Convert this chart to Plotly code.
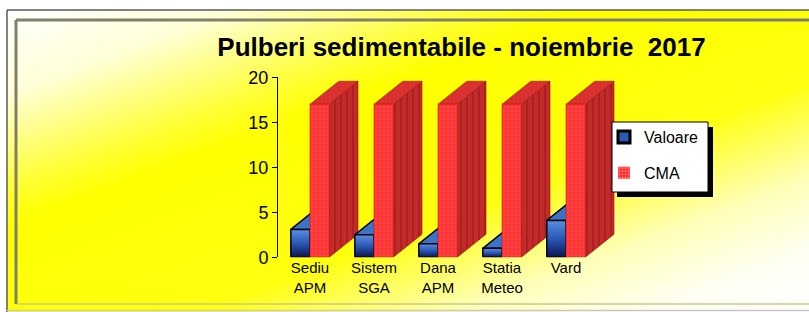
import base64
import plotly.graph_objects as go

# ---------------- data ----------------
categories = ["Sediu<br>APM", "Sistem<br>SGA", "Dana<br>APM", "Statia<br>Meteo", "Vard"]
valoare = [3.1, 2.5, 1.5, 1.0, 4.1]
cma = [17, 17, 17, 17, 17]
y_ticks = [0, 5, 10, 15, 20]
series_names = ["Valoare", "CMA"]
title_text = "Pulberi sedimentabile - noiembrie \u00a02017"

# ---------------- style constants ----------------
W, H = 809, 312
FONT = "Liberation Sans, Arial, sans-serif"
BAR_W = 0.3      # width of each front face (category units)
DX = 0.45        # 3D depth, horizontal (category units)
DY = 2.56        # 3D depth, vertical (value units)


def px(x):
    return x / W


def py(y):
    return 1 - y / H


def closed(xs, ys):
    return xs + [xs[0]], ys + [ys[0]]


fig = go.Figure()


def face(xs, ys, **kw):
    xs, ys = closed(xs, ys)
    fig.add_trace(go.Scatter(x=xs, y=ys, mode="lines", fill="toself",
                             hoverinfo="skip", showlegend=False, **kw))


for i, (v, h) in enumerate(zip(valoare, cma)):
    c = i
    # blue (Valoare) top face
    face([c - BAR_W, c, c + DX, c - BAR_W + DX], [v, v, v + DY, v + DY],
         fillcolor="#3d72c6", line=dict(color="#0a0a20", width=1.5))
    # blue front face (vertical gradient)
    face([c - BAR_W, c, c, c - BAR_W], [0, 0, v, v],
         fillcolor="#2b5ab8",
         fillgradient=dict(type="vertical",
                           colorscale=[[0, "#0a1450"], [0.5, "#2a58b5"], [1, "#5a8fe0"]]),
         line=dict(color="#050510", width=1.5))
    # red (CMA) side face
    face([c + BAR_W, c + BAR_W + DX, c + BAR_W + DX, c + BAR_W], [0, DY, h + DY, h],
         fillcolor="#c42a2a",
         fillpattern=dict(shape="|", bgcolor="#c42a2a", fgcolor="#8e1717", size=6, solidity=0.3),
         line=dict(color="#8a1010", width=0.6))
    # red top face
    face([c, c + BAR_W, c + BAR_W + DX, c + DX], [h, h, h + DY, h + DY],
         fillcolor="#e23636",
         fillpattern=dict(shape="+", bgcolor="#e03434", fgcolor="#b82020", size=4, solidity=0.3),
         line=dict(color="#9a1414", width=0.6))
    # red front face
    face([c, c + BAR_W, c + BAR_W, c], [0, 0, h, h],
         fillcolor="#ff3030",
         fillpattern=dict(shape="+", bgcolor="#ff2c2c", fgcolor="#ff8a8a", size=4, solidity=0.3),
         line=dict(color="#c01818", width=0.6))

# legend-only entries
fig.add_trace(go.Bar(x=[None], y=[None], name=series_names[0], legendgroup="a",
                     marker=dict(color="#2a5ab8", line=dict(color="#000000", width=3))))
fig.add_trace(go.Bar(x=[None], y=[None], name=series_names[1], legendgroup="b",
                     marker=dict(color="#ff2020",
                                 pattern=dict(shape="+", fgcolor="#ffffff", bgcolor="#ff2020",
                                              size=4, solidity=0.35),
                                 line=dict(width=0))))

# ---------------- background gradient (svg image) ----------------
svg = (
    '<svg xmlns="http://www.w3.org/2000/svg" width="802" height="302" '
    'viewBox="0 0 802 302" preserveAspectRatio="none">'
    '<defs><linearGradient id="g" x1="0" y1="0" x2="1" y2="1">'
    '<stop offset="0" stop-color="#ffffff"/>'
    '<stop offset="0.14" stop-color="#ffffd8"/>'
    '<stop offset="0.3" stop-color="#ffff30"/>'
    '<stop offset="0.36" stop-color="#ffff00"/>'
    '<stop offset="0.62" stop-color="#ffff10"/>'
    '<stop offset="0.78" stop-color="#ffffb8"/>'
    '<stop offset="0.9" stop-color="#fffff4"/>'
    '<stop offset="1" stop-color="#ffffff"/>'
    '</linearGradient></defs>'
    '<rect x="0" y="0" width="802" height="302" fill="url(#g)"/></svg>'
)
svg_uri = "data:image/svg+xml;base64," + base64.b64encode(svg.encode()).decode()

shapes = [
    # outer frame
    dict(type="line", xref="paper", yref="paper", x0=px(7), x1=px(7), y0=py(10), y1=py(312),
         line=dict(color="#5a5a5a", width=1.5), layer="above"),
    dict(type="line", xref="paper", yref="paper", x0=px(7), x1=px(809), y0=py(10), y1=py(10),
         line=dict(color="#5a5a5a", width=1.5), layer="above"),
    dict(type="line", xref="paper", yref="paper", x0=px(7), x1=px(809), y0=py(310.5), y1=py(310.5),
         line=dict(color="#c8c8c8", width=1.5), layer="above"),
    # inner bevel
    dict(type="line", xref="paper", yref="paper", x0=px(16), x1=px(16), y0=py(20), y1=py(304),
         line=dict(color="#80806a", width=3), layer="above"),
    dict(type="line", xref="paper", yref="paper", x0=px(16), x1=px(809), y0=py(20), y1=py(20),
         line=dict(color="#80806a", width=3), layer="above"),
    dict(type="line", xref="paper", yref="paper", x0=px(17), x1=px(809), y0=py(304), y1=py(304),
         line=dict(color="#c9c98a", width=1.5), layer="above"),
    # legend shadow & box
    dict(type="rect", xref="paper", yref="paper", x0=px(617), x1=px(713), y0=py(197), y1=py(127),
         fillcolor="#000000", line=dict(width=0), layer="above"),
    dict(type="rect", xref="paper", yref="paper", x0=px(612), x1=px(708), y0=py(192), y1=py(122),
         fillcolor="#ffffff", line=dict(color="#000000", width=1), layer="above"),
]

fig.update_layout(
    width=W, height=H, autosize=False,
    margin=dict(l=0, r=0, t=0, b=0, pad=0, autoexpand=False),
    paper_bgcolor="#ffffff", plot_bgcolor="rgba(0,0,0,0)",
    barmode="overlay",
    font=dict(family=FONT, color="#000000"),
    title=dict(text=title_text, x=461.5 / W, xanchor="center", y=py(47), yanchor="middle",
               font=dict(family=FONT, size=26, color="#000000", weight="bold")),
    images=[dict(source=svg_uri, xref="paper", yref="paper", x=px(7), y=py(10),
                 sizex=px(809) - px(7), sizey=py(10) - py(312), xanchor="left", yanchor="top",
                 sizing="stretch", layer="below")],
    shapes=shapes,
    xaxis=dict(domain=[px(278), px(278 + 6 * 64)], range=[-0.5, 5.5], automargin=False,
               tickmode="array", tickvals=list(range(len(categories))), ticktext=categories,
               showline=False, showgrid=False, zeroline=False, ticks="",
               tickfont=dict(size=15, family=FONT, color="#000000"), fixedrange=True),
    yaxis=dict(domain=[py(257.3), py(77.3)], range=[0, 20], automargin=False,
               tickmode="array", tickvals=y_ticks,
               showline=True, linecolor="#000000", linewidth=1,
               ticks="outside", ticklen=5, tickcolor="#000000", tickwidth=1,
               showgrid=False, zeroline=False,
               tickfont=dict(size=18, family=FONT, color="#000000"), fixedrange=True),
    legend=dict(x=px(604), y=py(120), xanchor="left", yanchor="top",
                bgcolor="rgba(0,0,0,0)", borderwidth=0,
                font=dict(size=16, family=FONT, color="#000000"),
                traceorder="grouped", tracegroupgap=12),
    showlegend=True,
)

fig.write_html(
    "out.html",
    config={"displayModeBar": False, "responsive": False},
    post_script="document.body.style.margin='0px';document.body.style.overflow='hidden';",
)
